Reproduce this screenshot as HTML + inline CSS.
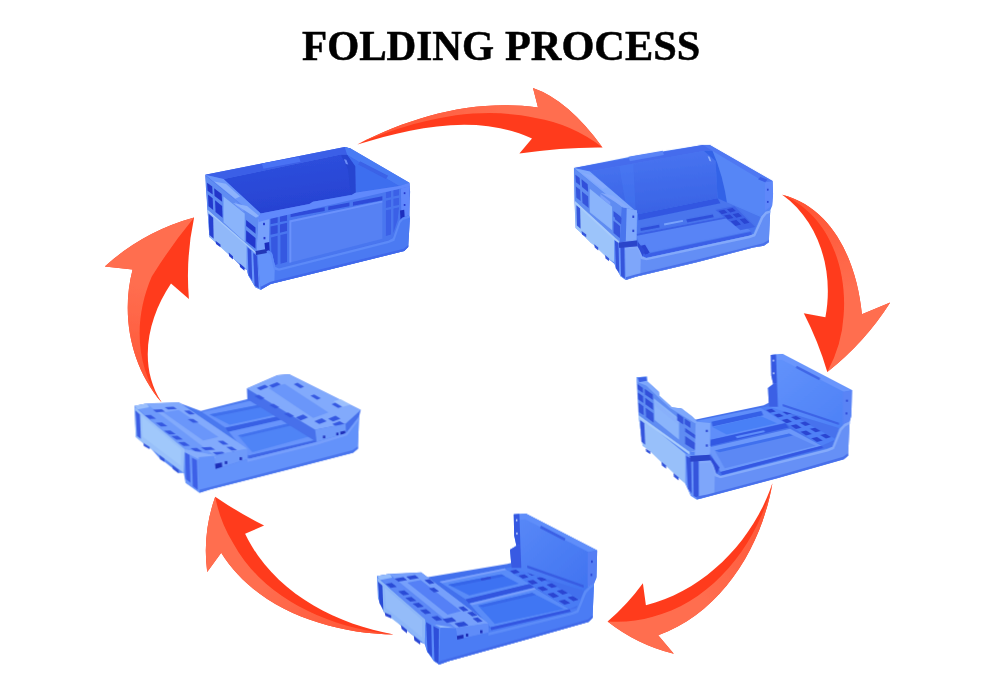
<!DOCTYPE html>
<html><head><meta charset="utf-8">
<style>
html,body{margin:0;padding:0;background:#fff;}
body{width:1000px;height:680px;overflow:hidden;position:relative;font-family:"Liberation Serif",serif;}
.tw{position:absolute;top:21px;transform-origin:0 0;font-family:"Liberation Serif",serif;font-weight:bold;font-size:42px;line-height:50px;color:#000;white-space:nowrap;-webkit-text-stroke:0.5px #000;}
svg{position:absolute;left:0;top:0;}
</style></head><body>
<svg width="1000" height="680" viewBox="0 0 1000 680">
<defs>
<filter id="soft" x="-5%" y="-5%" width="110%" height="110%"><feGaussianBlur stdDeviation="0.6"/></filter>
<filter id="softA" x="-5%" y="-5%" width="110%" height="110%"><feGaussianBlur stdDeviation="0.5"/></filter>
</defs>
<!-- ARROWS -->
<g id="arrows" filter="url(#softA)">
<defs><linearGradient id="ag1" gradientUnits="userSpaceOnUse" x1="357.4" y1="144.4" x2="504.5" y2="146.2"><stop offset="0" stop-color="#ff5232"/><stop offset="1" stop-color="#ff6e50"/></linearGradient><linearGradient id="ag2" gradientUnits="userSpaceOnUse" x1="782.2" y1="194.8" x2="809.3" y2="301.1"><stop offset="0" stop-color="#ff5232"/><stop offset="1" stop-color="#ff6e50"/></linearGradient><linearGradient id="ag3" gradientUnits="userSpaceOnUse" x1="772.4" y1="483.2" x2="673.5" y2="566.2"><stop offset="0" stop-color="#ff5232"/><stop offset="1" stop-color="#ff6e50"/></linearGradient><linearGradient id="ag4" gradientUnits="userSpaceOnUse" x1="393.9" y1="634.4" x2="286.7" y2="551.8"><stop offset="0" stop-color="#ff5232"/><stop offset="1" stop-color="#ff6e50"/></linearGradient><linearGradient id="ag5" gradientUnits="userSpaceOnUse" x1="161.7" y1="402.4" x2="181.1" y2="291.5"><stop offset="0" stop-color="#ff5232"/><stop offset="1" stop-color="#ff6e50"/></linearGradient></defs>
<!-- arrow 1 -->
<path d="M357.4,144.4 C413.8,115.7 474.6,98.9 538,107.5 L533,88 Q568,100 602.5,147.4 Q563,147 519.4,153.4 L532,138.4 C475.7,113.1 413.4,127.5 357.4,144.4Z" fill="#ff3b1b"/>
<path d="M357.4,144.4 C413.8,115.7 474.6,98.9 538,107.5 L533,88 Q568,100 602.5,147.4 Q572,124 535.6,118 C475,104.6 413.6,120.4 357.4,144.4Z" fill="url(#ag1)"/>
<!-- arrow 2 -->
<path d="M782.2,194.8 C835.4,208.5 857.3,265.8 861.9,314.3 L890.2,302.5 Q864.7,342.6 827.3,372 Q818.3,341.5 803.8,313.3 L825.4,317.3 C834,271.5 820,222 782.2,194.8Z" fill="#ff3b1b"/>
<path d="M782.2,194.8 C835.4,208.5 857.3,265.8 861.9,314.3 L890.2,302.5 Q864.7,342.6 827.3,372 Q842,345 843.6,315.8 C847.5,268.7 829.4,214.9 782.2,194.8Z" fill="url(#ag2)"/>
<!-- arrow 3 -->
<path d="M772.4,483.2 C753.5,540.1 705,590.7 645.9,605.3 L642.9,583.2 Q627.5,604.4 607.6,621.5 Q637.2,644.8 673.8,653.8 L658.2,635.3 C721.5,612.3 761.4,547.5 772.4,483.2Z" fill="#ff3b1b"/>
<path d="M772.4,483.2 C761.4,547.5 721.5,612.3 658.2,635.3 L673.8,653.8 Q637.2,644.8 607.6,621.5 Q632,623 652,617 C713.2,601.5 757.5,543.8 772.4,483.2Z" fill="url(#ag3)"/>
<!-- arrow 4 -->
<path d="M393.9,634.4 C333.5,623.7 272.5,591 245.1,533.7 L264.1,525.5 Q238.6,512.8 215.2,496.7 Q202.2,533.4 207.2,572.1 L221.2,552.8 C256.5,609.7 330.3,633.6 393.9,634.4Z" fill="#ff3b1b"/>
<path d="M393.9,634.4 C330.3,633.6 256.5,609.7 221.2,552.8 L207.2,572.1 Q202.2,533.4 215.2,496.7 Q220,522 233.2,543.3 C264.5,600.4 331.9,628.7 393.9,634.4Z" fill="url(#ag4)"/>
<!-- arrow 5 -->
<path d="M161.7,402.4 C130.8,366.3 120.7,315.4 132.6,269.5 L104.8,266.4 Q143.7,231.5 194.1,217.6 Q185.5,257.9 188.9,298.9 L171,283.4 C147.8,317.5 137.3,365.1 161.7,402.4Z" fill="#ff3b1b"/>
<path d="M161.7,402.4 C130.8,366.3 120.7,315.4 132.6,269.5 L104.8,266.4 Q143.7,231.5 194.1,217.6 Q170,247 151.8,276.5 C134.3,316.5 134,365.7 161.7,402.4Z" fill="url(#ag5)"/>
</g>

<!-- CRATES -->
<g id="crates" filter="url(#soft)">
<g transform="translate(200,140) scale(0.235294)">
<defs>
<linearGradient id="c1in" x1="0" y1="0" x2="0.3" y2="1"><stop offset="0" stop-color="#2f52df"/><stop offset="1" stop-color="#2742d2"/></linearGradient>
</defs>
<!-- silhouette -->
<polygon points="22,148 300,92 615,30 640,36 890,182 893,220 888,320 892,335 885,455 868,472 560,548 300,612 258,636 235,626 205,575 199,551 189,548 168,530 140,502 122,486 87,450 66,434 40,412 32,300 25,200" fill="#4a73ed"/>
<!-- left face upper -->
<polygon points="24,152 248,334 240,480 32,298" fill="#5f8cf2"/>
<polygon points="100,240 190,312 190,432 100,350" fill="#8ab4fb"/>
<polygon points="30,182 52,198 54,232 32,216" fill="#2236ca"/>
<polygon points="60,205 92,230 94,262 62,238" fill="#2236ca"/>
<polygon points="34,232 54,248 56,298 36,282" fill="#2439ce"/>
<polygon points="64,256 94,280 96,330 66,306" fill="#2439ce"/>
<polygon points="196,340 236,372 236,398 196,366" fill="#2439ce"/>
<polygon points="196,384 236,416 236,462 196,430" fill="#2439ce"/>
<polygon points="150,262 185,290 185,305 150,277" fill="#7098fc"/>
<!-- left face lower (base) -->
<polygon points="32,298 199,444 199,551 180,536 130,493 110,476 60,430 40,412" fill="#90b8f9"/>
<polygon points="199,444 240,480 250,560 258,636 235,626 205,575 199,551" fill="#6a96fa"/>
<polygon points="36,312 56,330 58,420 40,404" fill="#2640d2"/>
<polygon points="202,456 218,470 222,598 206,574" fill="#3050da"/>
<polygon points="226,480 243,492 250,630 232,618" fill="#3050da"/>
<polygon points="32,296 240,478 240,486 32,304" fill="#a4c8fb"/>
<polygon points="66,428 87,444 87,456 68,442" fill="#2640d2"/>
<polygon points="122,478 140,494 140,508 124,494" fill="#2640d2"/>
<polygon points="168,524 189,542 189,556 170,540" fill="#2640d2"/>
<!-- front face frame -->
<polygon points="248,334 890,184 890,320 860,330 846,346 820,420 335,548 318,542 305,480 240,480" fill="#4a76ef"/>
<!-- main panel -->
<polygon points="380,342 775,258 775,420 380,522" fill="#5681f3"/>
<polygon points="380,342 775,258 775,266 388,350 388,520 380,522" fill="#6a92fc"/>
<!-- slots under rim -->
<polygon points="385,312 530,286 530,302 385,328" fill="#2e4cda"/>
<polygon points="545,283 635,266 635,282 545,299" fill="#2e4cda"/>
<polygon points="650,263 775,239 775,256 650,279" fill="#2e4cda"/>
<!-- left grid -->
<polygon points="300,330 330,323 330,352 300,358" fill="#3050dc"/>
<polygon points="340,321 370,314 370,343 340,349" fill="#3050dc"/>
<polygon points="300,368 330,361 330,396 300,403" fill="#3050dc"/>
<polygon points="340,359 370,352 370,387 340,394" fill="#3050dc"/>
<polygon points="302,414 330,407 330,528 304,536" fill="#3558e1"/>
<polygon points="342,404 370,397 370,518 342,526" fill="#3558e1"/>
<!-- right grid -->
<polygon points="790,222 812,217 812,243 790,248" fill="#3a60e7"/>
<polygon points="822,214 846,209 846,235 822,240" fill="#3a60e7"/>
<polygon points="790,258 812,253 812,284 790,289" fill="#3a60e7"/>
<polygon points="822,250 846,245 846,276 822,281" fill="#3a60e7"/>
<polygon points="790,299 812,294 812,402 790,408" fill="#3a60e7"/>
<polygon points="822,291 846,286 840,340 822,395" fill="#3a60e7"/>
<!-- pillars -->
<polygon points="248,334 296,323 293,470 240,480" fill="#76a0fc"/>
<polygon points="854,206 890,197 890,320 856,330" fill="#6088fc"/>
<rect x="268" y="352" width="8" height="10" fill="#2538cc"/><rect x="270" y="412" width="8" height="10" fill="#2538cc"/>
<polygon points="274,438 294,434 296,472 278,476" fill="#1f2fbe"/>
<rect x="866" y="222" width="7" height="8" fill="#2538cc"/><rect x="866" y="272" width="7" height="8" fill="#2538cc"/>
<polygon points="850,300 868,296 870,332 852,338" fill="#1f2fbe"/>
<!-- base front band -->
<polygon points="240,480 293,470 306,480 320,540 336,546 800,428 820,418 846,344 860,330 890,320 892,335 885,455 868,472 560,548 300,612 258,636 250,560" fill="#4c7af2"/>
<polygon points="245,482 293,472 306,482 318,536 316,604 258,636 250,560" fill="#6492fa"/>
<polygon points="240,480 293,470 306,480 320,540 336,546 800,428 820,418 846,344 860,330 890,320 890,330 862,340 852,352 826,428 802,438 336,556 314,550 300,490 290,480 240,490" fill="#5c8af8"/>
<polygon points="258,636 300,612 560,548 868,472 885,455 885,446 866,462 560,538 300,602 258,624" fill="#4068eb"/>
<polygon points="236,472 282,463 284,480 238,489" fill="#2438b8"/>
<!-- interior -->
<polygon points="100,166 598,62 640,110 650,232 480,262 465,272 258,312" fill="url(#c1in)"/>
<polygon points="625,62 848,196 660,224 656,110" fill="#3e6eef"/>
<polygon points="598,62 625,62 660,112 662,226 642,232 628,122" fill="#2744d0"/>
<polygon points="612,82 622,84 630,104 620,102" fill="#6a8cf8"/>
<!-- rims -->
<polygon points="22,148 615,30 640,36 625,62 598,62 100,166" fill="#3a5ee7"/>
<polygon points="262,100 420,72 428,92 270,122" fill="#4a72f4"/>
<polygon points="22,148 100,166 258,312 248,334" fill="#6a96fa"/>
<polygon points="60,176 110,186 170,240 150,250" fill="#8cb2fc"/>
<polygon points="140,268 200,280 250,322 238,330" fill="#8cb2fc"/>
<polygon points="615,30 640,36 890,182 848,196 625,62" fill="#4a7cf4"/>
<polygon points="680,90 800,152 790,166 672,104" fill="#3a62e7"/>
<polygon points="248,334 258,312 465,272 480,262 645,234 660,224 848,196 890,182 890,198 296,336 250,348" fill="#6189fc"/>
</g>

<g transform="translate(565,135) scale(0.235294)">
<defs>
<linearGradient id="c2in" x1="0" y1="0" x2="0.2" y2="1"><stop offset="0" stop-color="#4a76f2"/><stop offset="1" stop-color="#3a64e6"/></linearGradient>
</defs>
<polygon points="38,140 300,88 585,42 615,42 882,195 884,250 880,300 872,320 866,455 845,470 800,478 560,540 300,602 258,616 236,600 210,548 180,522 130,472 110,457 62,410 45,395 40,280" fill="#5282f4"/>
<!-- left face upper -->
<polygon points="40,144 240,305 232,456 42,282" fill="#5f8cf2"/>
<polygon points="105,228 200,304 200,404 105,328" fill="#8ab4fb"/>
<polygon points="44,168 62,182 64,214 46,200" fill="#3050da"/>
<polygon points="70,188 96,209 98,242 72,221" fill="#3050da"/>
<polygon points="46,218 64,232 66,280 48,266" fill="#3454dc"/>
<polygon points="72,240 98,261 100,310 74,289" fill="#3454dc"/>
<polygon points="206,322 236,346 236,370 206,346" fill="#3454dc"/>
<polygon points="206,364 236,388 236,440 206,416" fill="#3454dc"/>
<polygon points="150,250 192,284 192,298 150,264" fill="#7aa0fc"/>
<!-- left face lower -->
<polygon points="42,282 209,435 209,541 180,522 130,474 110,458 62,411 45,395" fill="#9cc4fa"/>
<polygon points="209,435 255,458 258,616 236,600 214,562 209,541" fill="#6a96fa"/>
<polygon points="42,280 232,454 232,466 42,292" fill="#a8ccfc"/>
<polygon points="48,298 64,312 66,398 50,384" fill="#3454dc"/>
<polygon points="212,448 227,458 230,586 216,566" fill="#3454dc"/>
<polygon points="235,466 252,474 254,610 238,598" fill="#3454dc"/>
<polygon points="70,408 90,422 90,434 72,422" fill="#3454dc"/>
<polygon points="124,464 141,478 141,490 126,478" fill="#3454dc"/>
<polygon points="170,510 187,524 187,536 172,524" fill="#3454dc"/>
<!-- interior back wall -->
<polygon points="105,155 590,68 640,105 648,268 312,336 300,322" fill="url(#c2in)"/>
<polygon points="230,132 290,121 300,322 256,286" fill="#4a7ef5" opacity="0.35"/>
<!-- right wall inside -->
<path d="M626,66 L850,200 L850,324 L830,348 L690,300 Q672,170 626,66Z" fill="#5686f6"/>
<path d="M590,68 L626,66 Q672,170 690,300 L648,270 L640,110Z" fill="#3262e7"/>
<polygon points="606,90 614,92 622,112 614,110" fill="#8fb0fc"/>
<!-- floor / folded panel -->
<polygon points="310,336 648,268 830,348 795,424 340,522 318,468 305,450" fill="#4874ed"/>
<polygon points="310,336 648,268 660,290 312,362" fill="#3056e1"/>
<polygon points="300,420 700,344 790,408 330,506" fill="#5884f6"/>
<polygon points="300,420 700,344 706,350 306,428" fill="#3a60e5"/>
<polygon points="320,396 400,381 402,393 322,408" fill="#2f50da"/>
<polygon points="515,359 628,337 632,349 520,371" fill="#2f50da"/>
<polygon points="420,376 500,361 502,368 422,384" fill="#7aa4fc"/>
<!-- grid on right of panel -->
<polygon points="640,318 720,302 808,390 745,404" fill="#3d64e7"/>
<polygon points="652,322 676,317 690,330 666,336" fill="#2a44d2"/>
<polygon points="688,315 712,310 726,323 702,329" fill="#2a44d2"/>
<polygon points="676,342 700,337 716,352 692,358" fill="#2a44d2"/>
<polygon points="712,336 736,331 752,345 728,351" fill="#2a44d2"/>
<polygon points="704,366 728,361 748,380 724,386" fill="#2a44d2"/>
<polygon points="742,358 764,353 784,372 762,378" fill="#2a44d2"/>
<!-- front edge dark slot of panel -->
<polygon points="322,470 340,466 360,500 340,512" fill="#2a44d2"/>
<polygon points="330,510 790,412 795,424 340,522" fill="#3a5ee7"/>
<!-- pillar front-left -->
<polygon points="240,305 306,320 304,448 232,456" fill="#7ea8fc"/>
<polygon points="240,305 262,310 258,452 232,456" fill="#4a74ed"/>
<polygon points="212,330 240,352 238,380 212,358" fill="#3454dc"/>
<rect x="286" y="342" width="8" height="10" fill="#2a44d2"/><rect x="286" y="402" width="8" height="10" fill="#2a44d2"/>
<!-- right pillar -->
<polygon points="850,200 882,195 884,250 880,300 850,322" fill="#5f88fa"/>
<rect x="858" y="228" width="7" height="8" fill="#2a44d2"/><rect x="858" y="280" width="7" height="8" fill="#2a44d2"/>
<!-- base front band -->
<polygon points="255,478 308,472 318,490 328,516 346,522 782,428 802,420 834,346 852,326 872,320 866,455 845,470 800,478 560,540 300,602 258,616" fill="#648ef5"/>
<polygon points="255,480 308,474 322,512 320,596 258,616" fill="#7ea6fa"/>
<polygon points="255,478 308,472 318,490 328,516 346,522 782,428 802,420 834,346 852,326 872,320 872,330 856,336 842,354 808,430 784,438 346,532 322,526 312,494 304,482 255,488" fill="#84aafb"/>
<polygon points="228,456 306,448 308,472 230,480" fill="#2c44ca"/>
<polygon points="308,452 340,492 330,516 318,490 308,472" fill="#2f4cd6"/>
<polygon points="258,616 300,602 560,540 800,478 845,470 866,455 866,446 843,460 560,530 300,592 258,604" fill="#4870eb"/>
<!-- rims -->
<polygon points="38,140 585,42 615,42 626,66 590,68 105,155" fill="#456ced"/>
<polygon points="270,92 415,66 420,85 275,111" fill="#5a84f6"/>
<polygon points="38,140 105,155 300,322 306,320 240,305" fill="#7ea8fc"/>
<polygon points="70,160 120,172 180,222 160,230" fill="#86abfc"/>
<polygon points="150,245 205,258 270,310 250,308" fill="#86abfc"/>
<polygon points="585,42 615,42 882,195 850,200 626,66" fill="#5078f2"/>
<polygon points="830,178 860,190 850,200 820,188" fill="#3a5ee7"/>
</g>

<g transform="translate(632,345) scale(0.235294)">
<defs><linearGradient id="c3w" x1="0" y1="0" x2="1" y2="1"><stop offset="0" stop-color="#6494fc"/><stop offset="1" stop-color="#4c80f6"/></linearGradient></defs>
<!-- base silhouette -->
<polygon points="28,300 245,455 332,440 900,335 925,325 918,470 900,485 620,565 320,645 275,656 250,640 225,585 195,560 145,510 125,495 75,445 45,428" fill="#5282f4"/>
<!-- floor area -->
<polygon points="262,318 560,256 600,236 890,330 880,352 850,432 370,556 340,480 330,420" fill="#4672ed"/>
<!-- back folded panel -->
<polygon points="275,322 548,266 652,330 336,402" fill="#5e8efa"/>
<polygon points="338,326 550,280 558,298 342,346" fill="#3560e7"/>
<polygon points="342,348 546,302 616,332 402,380" fill="#4a80f6"/>
<polygon points="336,402 652,332 666,350 326,430" fill="#3258e3"/>
<polygon points="440,388 560,362 566,370 446,396" fill="#5e8efa"/>
<!-- front folded panel -->
<polygon points="320,436 672,356 806,428 376,540" fill="#6c98fa"/>
<polygon points="352,448 668,376 780,428 394,524" fill="#5c88f4"/>
<polygon points="352,448 668,376 684,384 372,456" fill="#3f70ee"/>
<polygon points="376,540 806,428 812,438 382,552" fill="#3558e3"/>
<!-- right grid strip -->
<polygon points="548,266 600,256 868,400 806,428" fill="#4f80f6"/>
<polygon points="570,276 594,271 610,282 586,288" fill="#2a44d2"/>
<polygon points="602,296 626,291 644,302 620,308" fill="#2a44d2"/>
<polygon points="640,284 662,279 680,290 658,296" fill="#2a44d2"/>
<polygon points="636,318 660,313 680,326 656,332" fill="#2a44d2"/>
<polygon points="676,306 698,301 718,313 696,319" fill="#2a44d2"/>
<polygon points="674,342 698,337 720,351 696,357" fill="#2a44d2"/>
<polygon points="714,330 736,325 758,338 736,344" fill="#2a44d2"/>
<polygon points="716,368 740,363 764,378 740,384" fill="#2a44d2"/>
<polygon points="756,356 778,351 802,365 780,371" fill="#2a44d2"/>
<polygon points="762,396 786,391 810,406 786,412" fill="#2a44d2"/>
<polygon points="800,382 822,377 846,391 824,397" fill="#2a44d2"/>
<!-- right wall inside face -->
<polygon points="590,42 640,38 935,192 932,300 925,325 900,335 880,352 582,262 578,182 600,166 592,130" fill="url(#c3w)"/>
<polygon points="590,42 640,38 935,192 900,198 636,62 600,66" fill="#6a96fc"/>
<polygon points="590,42 612,40 616,160 600,166 592,130" fill="#3458e1"/>
<rect x="598" y="62" width="6" height="8" fill="#c8d8fc"/><rect x="599" y="116" width="6" height="8" fill="#c8d8fc"/>
<polygon points="578,182 600,166 616,160 620,262 582,262" fill="#3b60e5"/>
<polygon points="896,200 935,192 932,300 925,325 896,338" fill="#5a84f6"/>
<rect x="910" y="232" width="7" height="9" fill="#2a44d2"/><rect x="908" y="286" width="7" height="9" fill="#2a44d2"/>
<polygon points="700,88 800,140 796,150 696,98" fill="#3f66e7"/>
<polygon points="640,250 880,330 880,340 640,260" fill="#3d64e7"/>
<!-- left wall outer face -->
<polygon points="19,137 63,134 66,155 114,198 117,216 162,257 168,264 211,270 257,305 277,326 333,331 330,440 245,456 28,300" fill="#5f8cf2"/>
<polygon points="92,226 200,312 200,402 96,318" fill="#8ab4fb"/>
<polygon points="96,240 200,324 200,340 96,256" fill="#86abfc" opacity="0.5"/>
<polygon points="23,166 46,182 47,204 24,188" fill="#3050da"/>
<polygon points="54,186 88,210 89,234 55,210" fill="#3050da"/>
<polygon points="25,202 47,218 48,246 26,230" fill="#3050da"/>
<polygon points="56,224 89,248 90,276 57,252" fill="#3050da"/>
<polygon points="27,244 48,260 50,298 29,284" fill="#3454dc"/>
<polygon points="58,266 90,290 92,330 60,306" fill="#3454dc"/>
<polygon points="192,290 218,308 218,338 192,320" fill="#3454dc"/>
<polygon points="224,312 248,328 248,352 224,336" fill="#3454dc"/>
<polygon points="226,352 272,384 272,400 226,368" fill="#3454dc"/>
<polygon points="226,386 274,420 274,450 226,420" fill="#3454dc"/>
<!-- left wall top rim -->
<polygon points="19,137 63,134 66,155 114,198 117,216 162,257 168,264 211,270 257,305 277,326 277,338 250,322 160,266 112,222 60,172 20,156" fill="#7ea8fc"/>
<polygon points="24,139 60,136 63,152 30,158" fill="#3b60e5"/>
<!-- front-left pillar -->
<polygon points="277,326 333,331 332,466 266,472 270,336" fill="#7ea8fc"/>
<rect x="314" y="360" width="8" height="10" fill="#2a44d2"/><rect x="314" y="422" width="8" height="10" fill="#2a44d2"/>
<!-- left face lower -->
<polygon points="28,300 227,462 227,589 195,562 145,514 125,498 75,450 45,428" fill="#98c0fa"/>
<polygon points="227,462 286,472 286,654 275,656 250,640 240,615 227,589" fill="#6a96fa"/>
<polygon points="28,298 245,454 245,466 28,310" fill="#a8ccfc"/>
<polygon points="34,318 52,332 56,424 40,410" fill="#3454dc"/>
<polygon points="230,472 251,482 254,632 238,610" fill="#3454dc"/>
<polygon points="260,486 282,494 283,652 262,642" fill="#3454dc"/>
<polygon points="58,440 78,452 78,464 60,452" fill="#3454dc"/>
<polygon points="125,496 145,512 145,526 127,512" fill="#3454dc"/>
<polygon points="176,544 198,562 198,576 178,560" fill="#3454dc"/>
<!-- base front band -->
<polygon points="286,494 334,490 346,510 358,546 376,556 830,442 852,432 882,356 902,336 925,325 918,470 900,485 620,565 320,645 286,654" fill="#6690f6"/>
<polygon points="286,496 334,492 352,540 350,636 286,654" fill="#7ea6fa"/>
<polygon points="286,494 334,490 346,510 358,546 376,556 830,442 852,432 882,356 902,336 925,325 925,335 906,346 890,364 858,442 832,452 376,566 352,558 340,516 330,500 286,504" fill="#84aafb"/>
<polygon points="246,472 332,466 334,490 248,496" fill="#2c44ca"/>
<polygon points="334,470 372,520 360,548 346,510 334,490" fill="#2f4cd6"/>
<polygon points="275,656 320,645 620,565 900,485 918,470 918,460 898,475 620,555 320,635 275,644" fill="#4870eb"/>
</g>

<g transform="translate(375,505) scale(0.24546)">
<defs><linearGradient id="c4w" x1="0" y1="0" x2="1" y2="1"><stop offset="0" stop-color="#5a8af8"/><stop offset="1" stop-color="#3f72f0"/></linearGradient></defs>
<!-- base silhouette -->
<polygon points="8,290 60,280 215,480 320,470 870,330 892,320 886,460 870,476 600,552 300,636 262,650 240,636 212,596 203,567 184,558 159,535 130,512 105,491 66,450 37,438 12,380" fill="#4c7cf4"/>
<!-- floor area -->
<polygon points="180,300 540,240 580,230 860,320 850,352 820,420 470,500 330,500" fill="#4270ed"/>
<!-- back folded panel -->
<polygon points="262,312 528,258 636,320 372,386" fill="#5a8cf8"/>
<polygon points="298,324 514,282 586,320 384,368" fill="#3e72f2"/>
<polygon points="298,324 514,282 530,290 318,332" fill="#3565e9"/>
<polygon points="262,312 528,258 536,264 274,318" fill="#7aa0fc"/>
<polygon points="368,384 636,320 648,334 382,400" fill="#3054df"/>
<polygon points="430,300 470,292 474,300 434,308" fill="#2f4cd6"/>
<!-- front folded panel -->
<polygon points="384,402 648,338 792,424 470,498" fill="#5a8cf8"/>
<polygon points="420,410 640,358 770,424 488,484" fill="#4176f3"/>
<polygon points="420,410 640,358 656,366 440,416" fill="#3767ea"/>
<polygon points="384,402 648,338 656,344 396,408" fill="#7aa0fc"/>

<polygon points="470,498 792,424 798,434 474,510" fill="#3356e1"/>
<!-- right grid strip -->
<polygon points="528,258 580,248 856,396 792,424" fill="#4a7cf4"/>
<polygon points="550,268 574,263 590,274 566,280" fill="#2a44d2"/>
<polygon points="584,288 608,283 626,294 602,300" fill="#2a44d2"/>
<polygon points="620,276 642,271 660,282 638,288" fill="#2a44d2"/>
<polygon points="620,310 644,305 664,318 640,324" fill="#2a44d2"/>
<polygon points="658,298 680,293 700,305 678,311" fill="#2a44d2"/>
<polygon points="660,336 684,331 706,345 682,351" fill="#2a44d2"/>
<polygon points="698,324 720,319 742,332 720,338" fill="#2a44d2"/>
<polygon points="702,362 726,357 750,372 726,378" fill="#2a44d2"/>
<polygon points="740,350 762,345 786,359 764,365" fill="#2a44d2"/>
<polygon points="748,390 772,385 796,400 772,406" fill="#2a44d2"/>
<polygon points="784,376 806,371 830,385 808,391" fill="#2a44d2"/>
<!-- right wall inside face -->
<polygon points="565,38 615,35 905,185 902,296 892,320 870,330 850,350 556,256 550,182 576,166 567,125" fill="url(#c4w)"/>
<polygon points="565,38 615,35 905,185 870,192 612,58 574,62" fill="#5f8efa"/>
<polygon points="565,38 588,36 592,160 576,166 567,125" fill="#3458e1"/>
<rect x="574" y="58" width="6" height="8" fill="#c8d8fc"/><rect x="575" y="112" width="6" height="8" fill="#c8d8fc"/>
<polygon points="550,182 576,166 592,160 596,256 556,256" fill="#375ae3"/>
<polygon points="866,194 905,185 902,296 892,320 866,332" fill="#547ef4"/>
<rect x="880" y="226" width="7" height="9" fill="#2a44d2"/><rect x="878" y="280" width="7" height="9" fill="#2a44d2"/>
<polygon points="676,84 776,136 772,146 672,94" fill="#3a60e5"/>
<polygon points="620,246 850,326 850,336 620,256" fill="#385ce3"/>
<!-- folded left wall lying flat -->
<polygon points="8,290 60,280 188,274 462,482 462,520 335,548 330,500 215,482" fill="#5c88f6"/>
<polygon points="60,282 188,274 462,482 330,502" fill="#76a0fb"/>
<polygon points="132,316 186,306 350,432 296,446" fill="#5480f6"/>
<polygon points="43,321 68,317 89,333 64,337" fill="#2c4cd6"/>
<polygon points="94,352 119,348 140,364 115,368" fill="#2c4cd6"/>
<polygon points="123,378 148,374 169,390 144,394" fill="#2c4cd6"/>
<polygon points="153,402 178,398 199,414 174,418" fill="#2c4cd6"/>
<polygon points="183,428 208,424 229,440 204,444" fill="#2c4cd6"/>
<polygon points="229,456 254,452 275,468 250,472" fill="#2c4cd6"/>
<polygon points="201,306 222,302 243,318 222,322" fill="#2c4cd6"/>
<polygon points="219,340 240,336 261,352 240,356" fill="#2c4cd6"/>
<polygon points="339,417 360,413 381,429 360,433" fill="#2c4cd6"/>
<polygon points="375,438 396,434 417,450 396,454" fill="#2c4cd6"/>
<polygon points="397,462 418,458 439,474 418,478" fill="#2c4cd6"/>
<polygon points="79,300 115,294 131,306 95,312" fill="#2c4cd6"/>
<polygon points="127,292 163,286 179,298 143,304" fill="#2c4cd6"/>
<polygon points="274,465 313,458 332,473 293,480" fill="#2c4cd6"/>
<polygon points="323,482 362,475 381,490 342,497" fill="#2c4cd6"/>
<polygon points="8,290 60,280 70,296 20,306" fill="#94bcfc"/>
<polygon points="10,296 215,482 330,500 335,510 215,494 12,308" fill="#94bcfc"/>
<!-- front end of folded wall -->
<polygon points="330,500 462,482 462,520 335,548" fill="#5f8cf8"/>
<polygon points="330,534 360,528 362,552 334,558" fill="#1f2fb9"/>
<rect x="370" y="524" width="10" height="12" fill="#1f2fb9"/><rect x="428" y="510" width="10" height="12" fill="#1f2fb9"/>
<!-- left face -->
<polygon points="10,298 205,467 203,567 37,438 14,380" fill="#8cb6f8"/>
<polygon points="40,336 192,468 192,540 44,420" fill="#94bcf9"/>
<polygon points="12,312 30,328 34,428 18,400" fill="#2c4cd6"/>
<polygon points="40,438 66,450 66,462 42,452" fill="#2c46d4"/>
<polygon points="106,489 130,509 130,523 108,505" fill="#2c46d4"/>
<polygon points="158,533 184,555 184,569 160,551" fill="#2c46d4"/>
<!-- corner pillar -->
<polygon points="205,467 267,499 262,650 240,636 212,596 203,567" fill="#5a8af8"/>
<polygon points="208,477 229,489 232,620 214,598" fill="#2f4fda"/>
<polygon points="238,493 260,505 259,646 242,634" fill="#2f4fda"/>
<!-- base front band -->
<polygon points="267,499 330,500 335,548 462,520 800,438 822,428 852,352 872,332 892,320 886,460 870,476 600,552 300,636 262,650" fill="#4c7cf4"/>
<polygon points="462,520 800,438 822,428 852,352 872,332 892,320 892,330 876,342 860,360 828,438 802,448 462,532" fill="#5c8cf8"/>
<polygon points="258,650 300,636 600,552 870,476 886,460 886,450 868,466 600,542 300,626 258,638" fill="#416aea"/>
</g>

<g transform="translate(132,358) scale(0.24546)">
<!-- base silhouette -->
<polygon points="10,195 60,185 215,375 470,410 925,238 920,370 900,386 620,458 320,535 275,549 218,508 211,468 190,468 164,448 132,422 112,408 72,362 45,346 15,322" fill="#5a88f6"/>
<!-- floor between -->
<polygon points="190,182 280,216 468,168 600,150 760,300 750,342 470,410 335,395" fill="#4a78ef"/>
<!-- back panel -->
<polygon points="284,220 500,170 620,232 384,286" fill="#6794fb"/>
<polygon points="316,230 520,190 600,228 398,272" fill="#4c80f6"/>
<polygon points="316,230 520,190 536,198 336,238" fill="#4070ed"/>

<polygon points="380,284 640,228 650,242 392,300" fill="#3860e5"/>
<!-- front panel -->
<polygon points="394,300 640,244 760,330 474,398" fill="#6794fb"/>
<polygon points="432,316 640,266 730,318 490,384" fill="#5084f6"/>
<polygon points="432,316 640,266 654,274 450,322" fill="#4272ee"/>


<polygon points="474,398 746,336 750,346 478,410" fill="#3f66e7"/>
<!-- right folded wall -->
<polygon points="468,124 592,70 640,66 932,212 925,238 872,306 752,342 470,168" fill="#4670eb"/>
<polygon points="468,124 592,70 640,66 932,212 870,268 746,292" fill="#82aafc"/>
<polygon points="556,122 622,106 800,222 738,244" fill="#6a96fa"/>
<polygon points="508,122 541,109 556,118 523,131" fill="#3558e1"/>
<polygon points="558,112 591,99 606,108 573,121" fill="#3558e1"/>
<polygon points="667,242 697,230 717,242 687,254" fill="#3558e1"/>
<polygon points="743,257 773,245 793,257 763,269" fill="#3558e1"/>
<polygon points="799,247 829,235 849,247 819,259" fill="#3558e1"/>
<polygon points="816,269 846,257 866,269 836,281" fill="#3558e1"/>
<polygon points="659,107 674,101 701,117 686,123" fill="#3558e1"/>
<polygon points="727,154 742,148 769,164 754,170" fill="#3558e1"/>
<polygon points="813,188 828,182 855,198 840,204" fill="#3558e1"/>
<polygon points="500,156 516,150 540,164 524,170" fill="#3558e1"/>
<polygon points="560,192 576,186 600,200 584,206" fill="#3558e1"/>
<polygon points="620,228 636,222 660,236 644,242" fill="#3558e1"/>
<polygon points="820,176 850,168 890,190 860,198" fill="#9cc0fc"/>
<polygon points="746,292 870,268 872,306 752,342" fill="#6e9afa"/>
<rect x="778" y="316" width="9" height="11" fill="#1f2fb9"/><rect x="832" y="304" width="9" height="11" fill="#1f2fb9"/>
<polygon points="848,300 868,296 870,312 850,318" fill="#1f2fb9"/>
<!-- left folded wall -->
<polygon points="10,195 60,185 190,180 470,370 470,410 340,452 335,395 215,375" fill="#6e9afa"/>
<polygon points="60,187 190,180 470,370 335,396" fill="#82aafc"/>
<polygon points="128,222 190,212 352,322 290,336" fill="#6a96fa"/>
<polygon points="50,233 76,232 98,247 72,248" fill="#3558e1"/>
<polygon points="96,264 122,263 144,278 118,279" fill="#3558e1"/>
<polygon points="130,296 156,295 178,310 152,311" fill="#3558e1"/>
<polygon points="159,318 185,317 207,332 181,333" fill="#3558e1"/>
<polygon points="188,343 214,342 236,357 210,358" fill="#3558e1"/>
<polygon points="238,367 264,366 286,381 260,382" fill="#3558e1"/>
<polygon points="212,215 234,214 256,229 234,230" fill="#3558e1"/>
<polygon points="227,249 249,248 271,263 249,264" fill="#3558e1"/>
<polygon points="349,338 371,337 393,352 371,353" fill="#3558e1"/>
<polygon points="384,362 406,361 428,376 406,377" fill="#3558e1"/>
<polygon points="408,381 430,380 452,395 430,396" fill="#3558e1"/>
<polygon points="85,211 121,209 135,219 99,221" fill="#3558e1"/>
<polygon points="133,200 169,198 183,208 147,210" fill="#3558e1"/>
<polygon points="281,364 321,362 339,374 299,376" fill="#3558e1"/>
<polygon points="328,384 368,382 386,394 346,396" fill="#3558e1"/>
<polygon points="10,195 60,185 70,200 22,210" fill="#9cc0fc"/>
<polygon points="12,200 215,376 335,396 340,406 215,388 14,212" fill="#9cc0fc"/>
<!-- front end of left folded wall -->
<polygon points="335,396 470,370 470,410 340,452" fill="#6e9afa"/>
<polygon points="336,432 366,426 368,450 340,456" fill="#1f2fb9"/>
<rect x="378" y="420" width="10" height="12" fill="#1f2fb9"/><rect x="438" y="404" width="10" height="12" fill="#1f2fb9"/>
<!-- left face -->
<polygon points="12,202 214,372 211,468 45,346 15,322" fill="#98c0fa"/>
<polygon points="40,236 200,372 200,440 44,322" fill="#a0c8fb"/>
<polygon points="14,214 32,230 36,330 20,318" fill="#3a5ce3"/>
<polygon points="46,346 72,362 72,372 48,358" fill="#3454da"/>
<polygon points="112,396 132,410 132,424 114,412" fill="#3454da"/>
<polygon points="164,436 190,456 190,470 166,452" fill="#3454da"/>
<!-- corner pillar -->
<polygon points="214,372 272,404 275,549 218,508" fill="#6a96fa"/>
<polygon points="216,382 234,394 238,508 220,494" fill="#3c60e7"/>
<polygon points="244,406 264,416 268,538 248,522" fill="#3c60e7"/>
<polygon points="214,372 335,396 340,408 272,412 214,384" fill="#86aefc"/>
<!-- base front band -->
<polygon points="272,404 335,398 340,452 470,412 752,342 872,306 925,238 920,370 900,386 620,458 320,535 275,549" fill="#6492fa"/>
<polygon points="470,412 752,342 872,306 925,238 925,250 876,316 752,354 470,424" fill="#769ffc"/>
<polygon points="275,549 320,535 620,458 900,386 920,370 920,360 898,376 620,448 320,525 275,537" fill="#4a74ed"/>
</g>

</g>
</svg>
<div class="tw" style="left:302.2px;transform:scaleX(0.980)">FOLDING</div><div class="tw" style="left:504.8px;transform:scaleX(1.008)">PROCESS</div>
</body></html>
